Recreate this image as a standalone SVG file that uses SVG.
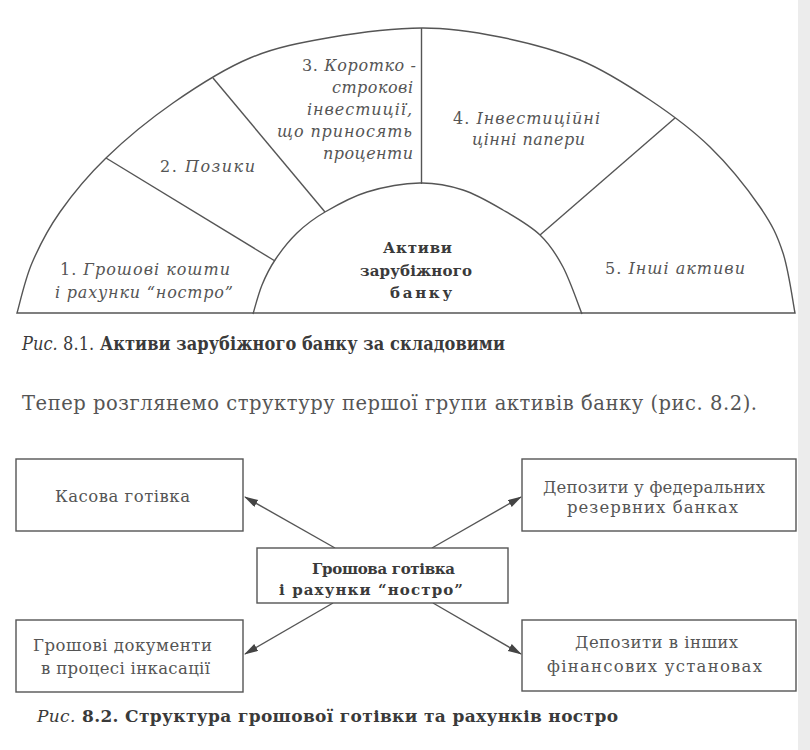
<svg xmlns="http://www.w3.org/2000/svg" width="810" height="750" viewBox="0 0 810 750">
<style>
.ln{fill:none;stroke:#555;stroke-width:1.4}
.it{font-family:"DejaVu Serif","Liberation Serif",serif;font-size:16px;font-style:italic;fill:#555}
.up{font-style:normal}
.bd{font-family:"DejaVu Serif","Liberation Serif",serif;font-size:15px;font-weight:bold;fill:#3a3a3a}
.tx{font-family:"DejaVu Serif","Liberation Serif",serif;font-size:16.5px;fill:#555}
.para{font-family:"DejaVu Serif","Liberation Serif",serif;font-size:19.5px;fill:#555}
.cap{font-family:"DejaVu Serif","Liberation Serif",serif;font-size:17px;font-weight:bold;fill:#3a3a3a}
.cap1{font-family:"DejaVu Serif Condensed","DejaVu Serif","Liberation Serif",serif;font-size:18px;font-weight:bold;fill:#3a3a3a}
.box{fill:#fff;stroke:#555;stroke-width:1.4}
.arr{stroke:#555;stroke-width:1.4;fill:none;marker-end:url(#ah)}
</style>
<defs>
<marker id="ah" markerUnits="userSpaceOnUse" markerWidth="14" markerHeight="10" refX="13" refY="4" orient="auto">
<path d="M0,0 L14,4 L0,8 z" fill="#444"/>
</marker>
</defs>
<rect width="810" height="750" fill="#fff"/>
<rect x="798" y="0" width="12" height="750" fill="#ececec"/>
<g id="fig81">
<path class="ln" d="M17,313 C19.5,304.7 24.8,279.8 32,263 C39.2,246.2 47.7,229.5 60,212 C72.3,194.5 87.2,176.2 106,158 C124.8,139.8 149,119.7 173,103 C197,86.3 223.8,68.9 250,58 C276.2,47.1 301.3,42.5 330,37.5 C358.7,32.5 393.7,28.1 422,28 C450.3,27.9 473.7,31.7 500,37 C526.3,42.3 555,49.5 580,60 C605,70.5 628.3,85.5 650,100 C671.7,114.5 691.7,129.2 710,147 C728.3,164.8 747.8,189.3 760,207 C772.2,224.7 777.2,235.3 783,253 C788.8,270.7 793,303 795,313 Z"/>
<path class="ln" d="M253,314 C254.5,309.2 258.3,294 262,285 C265.7,276 269.2,268.7 275,260 C280.8,251.3 288.7,241 297,233 C305.3,225 313.3,218.8 325,212 C336.7,205.2 351.2,196.8 367,192 C382.8,187.2 404,183.3 420,183 C436,182.7 449.2,185.5 463,190 C476.8,194.5 490.2,202.5 503,210 C515.8,217.5 530,225.5 540,235 C550,244.5 556,253.8 563,267 C570,280.2 578.8,306.2 582,314"/>
<g id="dividers">
<line class="ln" x1="106" y1="158" x2="275" y2="261"/>
<line class="ln" x1="213" y1="78" x2="325" y2="212"/>
<line class="ln" x1="421.5" y1="28" x2="421.5" y2="184"/>
<line class="ln" x1="675" y1="118" x2="540" y2="235"/>
</g>
<g id="s1">
<text class="it" x="60" y="275" textLength="170"><tspan class="up">1.</tspan> Грошові кошти</text>
<text class="it" x="55" y="298" textLength="178">і рахунки “ностро”</text>
</g>
<g id="s2">
<text class="it" x="160" y="172" textLength="95"><tspan class="up">2.</tspan> Позики</text>
</g>
<g id="s3">
<text class="it" x="302" y="71" textLength="114"><tspan class="up">3.</tspan> Коротко -</text>
<text class="it" x="332" y="93" textLength="81">строкові</text>
<text class="it" x="307" y="115" textLength="105">інвестиції,</text>
<text class="it" x="277" y="137" textLength="135">що приносять</text>
<text class="it" x="323" y="159" textLength="90">проценти</text>
</g>
<g id="s4">
<text class="it" x="453" y="124" textLength="147"><tspan class="up">4.</tspan> Інвестиційні</text>
<text class="it" x="472" y="145" textLength="113">цінні папери</text>
</g>
<g id="s5">
<text class="it" x="605" y="274" textLength="140"><tspan class="up">5.</tspan> Інші активи</text>
</g>
<g id="center81">
<text class="bd" x="383" y="253" textLength="69">Активи</text>
<text class="bd" x="360" y="276" textLength="112">зарубіжного</text>
<text class="bd" x="390" y="298" textLength="62">банку</text>
</g>
</g>
<text class="cap1" x="22" y="350" textLength="483"><tspan font-style="italic" font-weight="normal">Рис.</tspan><tspan font-weight="normal"> 8.1.</tspan> Активи зарубіжного банку за складовими</text>
<text class="para" x="22" y="410" textLength="735">Тепер розглянемо структуру першої групи активів банку (рис. 8.2).</text>
<g id="connectors">
<line class="arr" x1="335" y1="548" x2="245" y2="497"/>
<line class="arr" x1="432" y1="548" x2="521" y2="497"/>
<line class="arr" x1="333" y1="603" x2="245" y2="654"/>
<line class="arr" x1="433" y1="603" x2="521" y2="654"/>
</g>
<g id="n-kasova">
<rect class="box" x="16" y="459" width="227" height="72"/>
<text class="tx" x="55" y="502" textLength="135">Касова готівка</text>
</g>
<g id="n-docs">
<rect class="box" x="16" y="620" width="227" height="72"/>
<text class="tx" x="33" y="651" textLength="179">Грошові документи</text>
<text class="tx" x="41" y="674" textLength="169">в процесі інкасації</text>
</g>
<g id="n-center">
<rect class="box" x="257" y="548" width="251" height="55"/>
<text class="bd" x="312" y="574" textLength="143">Грошова готівка</text>
<text class="bd" x="279" y="595" textLength="184">і рахунки “ностро”</text>
</g>
<g id="n-fed">
<rect class="box" x="522" y="459" width="274" height="72"/>
<text class="tx" x="543" y="493" textLength="222">Депозити у федеральних</text>
<text class="tx" x="567" y="513" textLength="171">резервних банках</text>
</g>
<g id="n-other">
<rect class="box" x="522" y="620" width="274" height="71"/>
<text class="tx" x="575" y="648" textLength="163">Депозити в інших</text>
<text class="tx" x="547" y="672" textLength="215">фінансових установах</text>
</g>
<text class="cap" x="37" y="722" textLength="581"><tspan font-style="italic" font-weight="normal">Рис.</tspan> 8.2. Структура грошової готівки та рахунків ностро</text>
</svg>
